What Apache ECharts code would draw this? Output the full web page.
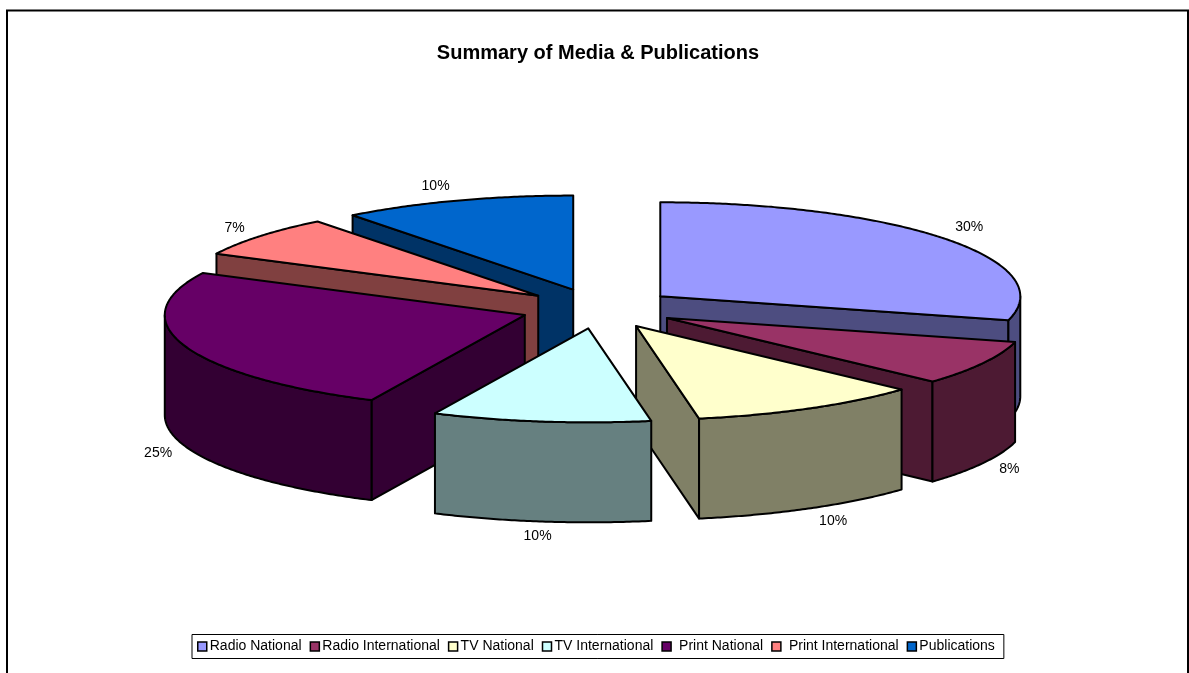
<!DOCTYPE html>
<html>
<head>
<meta charset="utf-8">
<style>html,body{margin:0;padding:0;background:#fff;overflow:hidden}#c{width:1189px;height:673px}</style>
<script src="https://cdn.jsdelivr.net/npm/echarts@6/dist/echarts.min.js"></script>
</head>
<body>
<div id="c"></div>
<script>
const categories = ['Radio National','Radio International','TV National','TV International','Print National','Print International','Publications'];
const values = [29.1, 7.7, 10.4, 9.8, 25.4, 7.1, 10.5];
const percentLabels = ['30%','8%','10%','10%','25%','7%','10%'];
const topColors = ['#9999FF','#993366','#FFFFCC','#CCFFFF','#660066','#FF8080','#0066CC'];
const sideColors = ['#4D4D80','#4D1A33','#808066','#668080','#330033','#804040','#003366'];
const paintOrder = [3,4,5,7,6,2,1];               // z of each slice: back to front
const labelReachX = [390,390,409,385,388,393,425]; // label distance from the slice apex
const labelReachY = [113,106,109,109,118,107,109];
const legendTextPad = [-2,-2,-2,-2,3,3,-2];

const CX = 598.5, CY = 308.5, RX = 360, RY = 94, DEPTH = 100, EX = 78, EY = 20;
const FONT = '"Liberation Sans", Arial, sans-serif';
const total = values.reduce((a, b) => a + b, 0);
const toRad = d => d * Math.PI / 180;

function sliceShapes(i) {
  let before = 0;
  for (let k = 0; k < i; k++) before += values[k];
  const a = before / total * 360, b = (before + values[i]) / total * 360, mid = (a + b) / 2;
  const ax = CX + EX * Math.sin(toRad(mid)), ay = CY - EY * Math.cos(toRad(mid));
  const pt = (d, dy) => [ax + RX * Math.sin(toRad(d)), ay - RY * Math.cos(toRad(d)) + (dy || 0)];
  const arc = (s, e, dy) => {
    const out = [], n = Math.max(2, Math.ceil((e - s) * 2));
    for (let j = 0; j <= n; j++) out.push(pt(s + (e - s) * j / n, dy));
    return out;
  };
  const stroke = { stroke: '#000', lineWidth: 2, lineJoin: 'round' };
  const kids = [];
  const side = sideColors[i], top = topColors[i];
  const cut = d => ({ type: 'polygon', shape: { points: [[ax, ay], pt(d), pt(d, DEPTH), [ax, ay + DEPTH]] }, style: Object.assign({ fill: side }, stroke) });
  if (Math.sin(toRad(a)) < -1e-6) kids.push(cut(a));
  if (Math.sin(toRad(b)) > 1e-6) kids.push(cut(b));
  const ra = Math.max(a, 90), rb = Math.min(b, 270);
  if (rb > ra) {
    kids.push({ type: 'polygon', shape: { points: arc(ra, rb, 0).concat(arc(ra, rb, DEPTH).reverse()) }, style: Object.assign({ fill: side }, stroke) });
  }
  kids.push({ type: 'polygon', shape: { points: [[ax, ay]].concat(arc(a, b, 0)) }, style: Object.assign({ fill: top }, stroke) });
  const front = Math.cos(toRad(mid)) < 0;
  kids.push({
    type: 'text',
    style: {
      x: ax + labelReachX[i] * Math.sin(toRad(mid)),
      y: ay - labelReachY[i] * Math.cos(toRad(mid)) + (front ? DEPTH : 0),
      text: percentLabels[i],
      fill: '#000', font: '14px ' + FONT,
      align: 'center', verticalAlign: 'middle'
    }
  });
  return { type: 'group', children: kids };
}

const series = categories.map((name, i) => ({
  type: 'custom',
  name: name,
  coordinateSystem: 'none',
  z: paintOrder[i] + 2,
  silent: true,
  animation: false,
  clip: false,
  itemStyle: { color: topColors[i] },
  data: [values[i]],
  renderItem: () => sliceShapes(i)
}));

const chart = echarts.init(document.getElementById('c'), null, { renderer: 'canvas' });
chart.setOption({
  animation: false,
  backgroundColor: '#fff',
  title: {
    text: 'Summary of Media & Publications',
    left: 593, top: 38, textAlign: 'center',
    textStyle: { fontFamily: FONT, fontSize: 20, fontWeight: 'bold', color: '#000' }
  },
  legend: {
    data: categories.map((name, i) => ({
      name: name,
      textStyle: { padding: [0, 0, 0, legendTextPad[i]] }
    })),
    left: 192, top: 634.5,
    orient: 'horizontal',
    icon: 'rect',
    itemWidth: 9, itemHeight: 9, itemGap: 8,
    padding: [5, 9, 5, 5],
    backgroundColor: '#fff',
    borderColor: '#000', borderWidth: 1,
    itemStyle: { borderColor: '#000', borderWidth: 1.5 },
    textStyle: { fontFamily: FONT, fontSize: 14, color: '#000' },
    selectedMode: false
  },
  graphic: [{
    type: 'polyline', silent: true, z: 0,
    shape: { points: [[7, 680], [7, 10.5], [1188, 10.5], [1188, 680]] },
    style: { stroke: '#000', lineWidth: 2, fill: null }
  }],
  series: series
});
</script>
</body>
</html>
